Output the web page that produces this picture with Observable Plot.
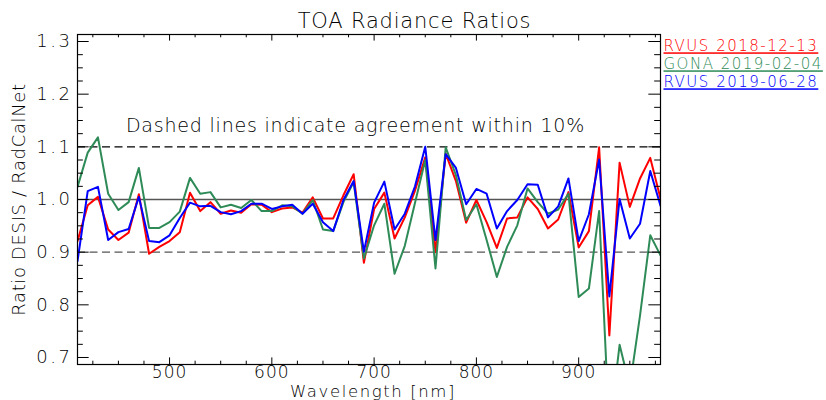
<!DOCTYPE html>
<html>
<head>
<meta charset="utf-8">
<script src="https://cdn.jsdelivr.net/npm/d3@7"></script>
<script src="https://cdn.jsdelivr.net/npm/@observablehq/plot@0.6"></script>
<style>
  html, body { margin: 0; padding: 0; background: #fff; }
  #chart { width: 826px; height: 400px; }
  #chart svg text { font-weight: 300; }
</style>
</head>
<body>
<div id="chart"></div>
<script>
// ---- data ----
const wavelengths = [410,420,430,440,450,460,470,480,490,500,510,520,530,540,550,560,570,580,590,600,
  610,620,630,640,650,660,670,680,690,700,710,720,730,740,750,760,770,780,790,800,
  810,820,830,840,850,860,870,880,890,900,910,920,930,940,950,960,970,980];

const seriesNames = ["RVUS 2018-12-13", "GONA 2019-02-04", "RVUS 2019-06-28"];
const seriesColors = ["#ff0000", "#2e8b57", "#0000ff"];

const rvus2018 = [0.921,0.989,1.005,0.943,0.923,0.937,1.010,0.897,0.910,0.921,0.938,1.013,0.978,0.995,0.973,0.979,0.975,0.991,0.990,0.976,
  0.983,0.985,0.975,1.004,0.964,0.964,1.008,1.048,0.880,0.982,1.013,0.926,0.966,1.017,1.080,0.900,1.087,1.035,0.956,0.999,
  0.957,0.908,0.964,0.966,1.004,0.982,0.945,0.962,1.014,0.909,0.940,1.099,0.742,1.070,0.986,1.040,1.079,1.002];

const gona2019 = [1.024,1.089,1.118,1.011,0.980,0.995,1.060,0.946,0.946,0.957,0.977,1.041,1.011,1.014,0.985,0.990,0.984,0.999,0.978,0.978,
  0.989,0.987,0.973,0.999,0.943,0.940,0.995,1.033,0.888,0.951,0.992,0.859,0.912,0.994,1.075,0.869,1.099,1.046,0.961,0.991,
  0.923,0.853,0.910,0.951,1.021,0.995,0.973,0.981,1.011,0.815,0.831,0.978,0.560,0.724,0.645,0.780,0.932,0.894];

const rvus2019 = [0.883,1.016,1.024,0.923,0.938,0.944,1.005,0.921,0.919,0.932,0.965,0.994,0.987,0.988,0.976,0.972,0.978,0.992,0.992,0.982,
  0.987,0.990,0.973,0.992,0.957,0.940,0.999,1.035,0.901,0.994,1.034,0.943,0.973,1.025,1.100,0.923,1.086,1.060,0.991,1.020,
  1.011,0.945,0.978,0.999,1.029,1.028,0.966,0.987,1.040,0.921,0.972,1.076,0.816,1.001,0.926,0.954,1.054,0.988];

const seriesValues = [rvus2018, gona2019, rvus2019];

const xDomain = [410, 980];
const yDomain = [0.6867, 1.3133];
const xMajorTicks = [500, 600, 700, 800, 900];
const xMinorTicks = [425,450,475,525,550,575,625,650,675,725,750,775,825,850,875,925,950,975];
const yMajorTicks = [0.7, 0.8, 0.9, 1.0, 1.1, 1.2, 1.3];
const yMinorTicks = [0.725,0.75,0.775,0.825,0.85,0.875,0.925,0.95,0.975,1.025,1.05,1.075,1.125,1.15,1.175,1.225,1.25,1.275];
const refSolid = [1.0];
const refDashed = [0.9, 1.1];

const titleText = "TOA Radiance Ratios";
const xLabel = "Wavelength [nm]";
const yLabel = "Ratio DESIS / RadCalNet";
const noteText = "Dashed lines indicate agreement within 10%";

// ---- layout ----
const W = 826, H = 400;
const mL = 77, mR = 166, mT = 34, mB = 36;
const frameW = W - mL - mR, frameH = H - mT - mB;
const xTickLen = 0.02 * frameH, yTickLen = 0.02 * frameW;

const rows = [];
seriesNames.forEach((name, s) => {
  wavelengths.forEach((w, i) => rows.push({series: name, wl: w, ratio: seriesValues[s][i]}));
});

const font = "DejaVu Sans, sans-serif";

const marks = [
  Plot.ruleY(refDashed, {y: d => d, stroke: d => d > 1 ? "#000" : "#555", strokeDasharray: "8,4.5", strokeWidth: 1.2}),
  Plot.ruleY(refSolid, {y: d => d, stroke: "#555", strokeWidth: 1.5}),
  ...seriesNames.map((name, s) => Plot.line(rows.filter(r => r.series === name), {
    x: "wl", y: "ratio", stroke: seriesColors[s], strokeWidth: 2, clip: true
  })),
  // inward ticks, bottom & top
  Plot.tickX(xMajorTicks, {x: d => d, insetTop: frameH - xTickLen, stroke: "#000"}),
  Plot.tickX(xMajorTicks, {x: d => d, insetBottom: frameH - xTickLen, stroke: "#000"}),
  Plot.tickX(xMinorTicks, {x: d => d, insetTop: frameH - xTickLen / 2, stroke: "#000"}),
  Plot.tickX(xMinorTicks, {x: d => d, insetBottom: frameH - xTickLen / 2, stroke: "#000"}),
  // inward ticks, left & right
  Plot.tickY(yMajorTicks, {y: d => d, insetRight: frameW - yTickLen, stroke: "#000"}),
  Plot.tickY(yMajorTicks, {y: d => d, insetLeft: frameW - yTickLen, stroke: "#000"}),
  Plot.tickY(yMinorTicks, {y: d => d, insetRight: frameW - yTickLen / 2, stroke: "#000"}),
  Plot.tickY(yMinorTicks, {y: d => d, insetLeft: frameW - yTickLen / 2, stroke: "#000"}),
  Plot.frame({stroke: "#000", strokeWidth: 1.2}),
  Plot.axisX(xMajorTicks, {tickSize: 0, tickPadding: 1.5, fontSize: 17, label: null, tickFormat: d => String(d)}),
  Plot.axisY(yMajorTicks, {tickSize: 0, tickPadding: 5, fontSize: 18, label: null, tickFormat: d3.format(".1f")}),
  Plot.text([titleText], {text: d => d, frameAnchor: "top", dx: 414 - (mL + frameW / 2), dy: -13.5, lineAnchor: "middle", textAnchor: "middle", fontSize: 21, fill: "#000"}),
  Plot.text([xLabel], {text: d => d, frameAnchor: "bottom", dx: 4, dy: 27.2, lineAnchor: "middle", textAnchor: "middle", fontSize: 16.5, fill: "#000"}),
  Plot.text([yLabel], {text: d => d, frameAnchor: "left", dx: -58, dy: 0, rotate: -90, lineAnchor: "middle", textAnchor: "middle", fontSize: 18, fill: "#000"}),
  Plot.text([noteText], {text: d => d, frameAnchor: "top", dx: 355 - (mL + frameW / 2), dy: 91, lineAnchor: "middle", textAnchor: "middle", fontSize: 19, fill: "#000"}),
  ...seriesNames.map((name, s) => Plot.text([name], {
    text: d => d, frameAnchor: "top-right", dx: 3, dy: 12 + 18 * s, lineAnchor: "middle", textAnchor: "start",
    fontSize: 15, fill: seriesColors[s]
  }))
];

const svg = Plot.plot({
  width: W, height: H,
  marginLeft: mL, marginRight: mR, marginTop: mT, marginBottom: mB,
  style: {fontFamily: font, background: "#fff", color: "#000", overflow: "visible"},
  x: {domain: xDomain},
  y: {domain: yDomain},
  marks
});

// Hershey-like wide spacing and light strokes
const spacing = new Map([
  [titleText, "0.8px"], [xLabel, "1.6px"], [yLabel, "0.65px"], [noteText, "0.8px"]
]);
svg.querySelectorAll("text").forEach(t => {
  t.style.fontWeight = "300";
  const txt = t.textContent;
  if (seriesNames.includes(txt)) {
    t.setAttribute("text-decoration", "underline");
    t.style.textDecoration = "underline";
    t.style.letterSpacing = "1.5px";
  } else if (spacing.has(txt)) {
    t.style.letterSpacing = spacing.get(txt);
  }
  const g = t.closest("g[aria-label]");
  if (g && /y-axis tick label/.test(g.getAttribute("aria-label"))) {
    t.style.letterSpacing = "2.5px";
  }
  if (g && /x-axis tick label/.test(g.getAttribute("aria-label"))) {
    t.style.letterSpacing = "1px";
  }
});

document.getElementById("chart").appendChild(svg);
</script>
</body>
</html>
